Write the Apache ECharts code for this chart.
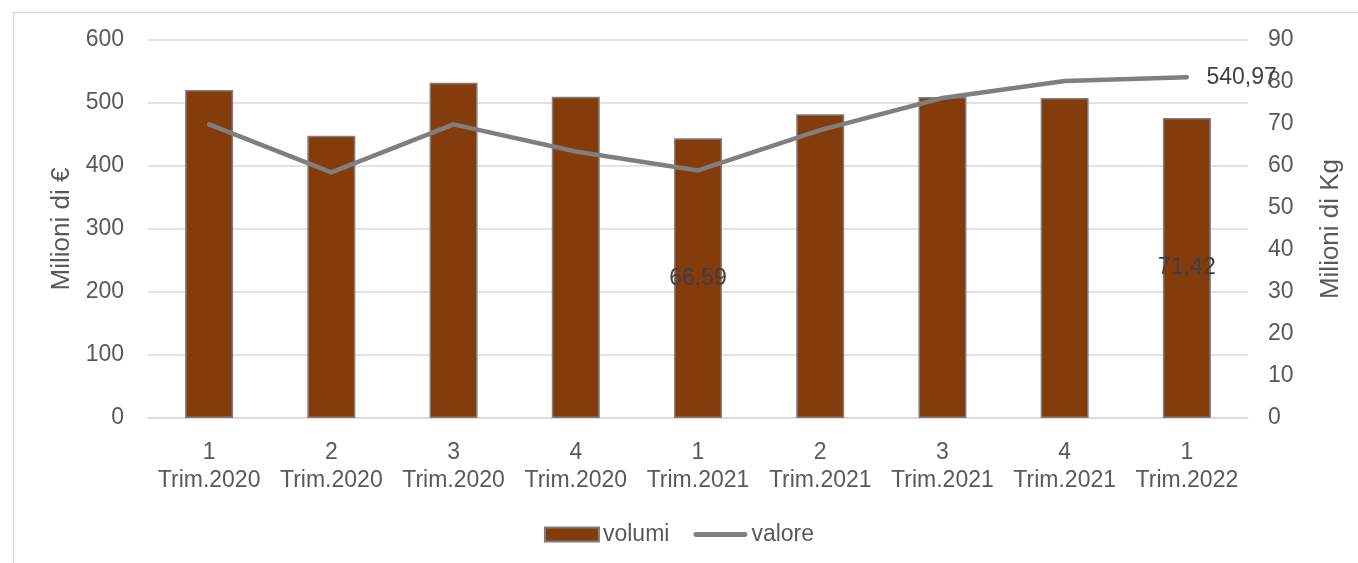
<!DOCTYPE html>
<html>
<head>
<meta charset="utf-8">
<script src="https://cdn.jsdelivr.net/npm/echarts@6/dist/echarts.min.js"></script>
<style>
  html, body { margin: 0; padding: 0; background: #fff; }
  #chart { width: 1358px; height: 563px; }
</style>
</head>
<body>
<div id="chart"></div>
<script>
// Quarters
const quarters = ['1\nTrim.2020', '2\nTrim.2020', '3\nTrim.2020', '4\nTrim.2020',
                  '1\nTrim.2021', '2\nTrim.2021', '3\nTrim.2021', '4\nTrim.2021', '1\nTrim.2022'];
// Volumes, million kg (right axis)
const volumi = [78.1, 67.2, 79.8, 76.5, 66.59, 72.3, 76.4, 76.2, 71.42];
// Value, million euro (left axis)
const valore = [466, 390, 466, 423, 393, 457, 508, 535, 540.97];
// Points that carry a value label
const volumiLabelled = [4, 8];
const valoreLabelled = [8];

const FONT = 'Liberation Sans, Arial, sans-serif';
const fmt = v => v.toFixed(2).replace('.', ',');

const chart = echarts.init(document.getElementById('chart'));
chart.setOption({
  animation: false,
  textStyle: { fontFamily: FONT },
  graphic: [{
    type: 'rect', left: 11, top: 10, silent: true,
    shape: { width: 1400, height: 600 },
    style: { fill: 'none', stroke: '#d9d9d9', lineWidth: 1.5 }
  }],
  grid: { left: 148, right: 110, top: 40, bottom: 145 },
  legend: {
    top: 518, left: 'center', itemGap: 24, itemWidth: 54, itemHeight: 14,
    textStyle: { fontSize: 23, color: '#595959', fontFamily: FONT, padding: [0, 0, 0, -1] },
    data: [
      { name: 'volumi', icon: 'rect' },
      { name: 'valore', icon: 'path://M2.5,0 L53.5,0 A2.5,2.5 0 0 1 53.5,5 L2.5,5 A2.5,2.5 0 0 1 2.5,0 Z' }
    ]
  },
  xAxis: {
    type: 'category', data: quarters,
    axisLine: { show: true, lineStyle: { color: '#d9d9d9', width: 1.5 } },
    axisTick: { show: false },
    axisLabel: { fontSize: 23, color: '#595959', lineHeight: 28, margin: 21, interval: 0 }
  },
  yAxis: [{
    type: 'value', min: 0, max: 600, interval: 100,
    name: 'Milioni di €', nameLocation: 'middle', nameGap: 72, nameRotate: 90,
    nameTextStyle: { fontSize: 26, color: '#595959' },
    axisLabel: { fontSize: 23, color: '#595959', margin: 24 },
    splitLine: { lineStyle: { color: '#d9d9d9', width: 1.5 } },
    axisLine: { show: false }, axisTick: { show: false }
  }, {
    type: 'value', min: 0, max: 90, interval: 10, position: 'right',
    name: 'Milioni di Kg', nameLocation: 'middle', nameGap: 70, nameRotate: 90,
    nameTextStyle: { fontSize: 26, color: '#595959' },
    axisLabel: { fontSize: 23, color: '#595959', margin: 20 },
    splitLine: { show: false },
    axisLine: { show: false }, axisTick: { show: false }
  }],
  series: [{
    name: 'volumi', type: 'bar', yAxisIndex: 1, barWidth: 48,
    itemStyle: { color: '#843c0c', borderColor: '#7f7f7f', borderWidth: 1.5 },
    data: volumi.map((v, i) => ({
      value: v,
      label: {
        show: volumiLabelled.includes(i), position: 'inside',
        formatter: p => fmt(p.value), fontSize: 23, color: '#404040'
      }
    }))
  }, {
    name: 'valore', type: 'line', yAxisIndex: 0,
    symbol: 'circle', symbolSize: 1, showSymbol: true,
    lineStyle: { color: '#7f7f7f', width: 4.5, cap: 'round', join: 'round' },
    itemStyle: { color: '#7f7f7f' },
    data: valore.map((v, i) => ({
      value: v,
      label: {
        show: valoreLabelled.includes(i), position: 'right', distance: 19,
        formatter: p => fmt(p.value), fontSize: 23, color: '#404040'
      }
    }))
  }]
});
</script>
</body>
</html>
